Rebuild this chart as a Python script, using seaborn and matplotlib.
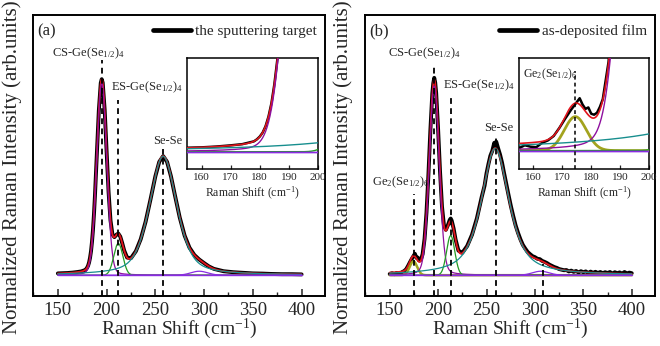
import numpy as np
import matplotlib
matplotlib.use("Agg")
import matplotlib.pyplot as plt
import matplotlib.transforms as mtransforms
from matplotlib.ticker import MultipleLocator
import seaborn as sns

sns.set_style("ticks")
plt.rcParams['font.family'] = ['Liberation Serif', 'DejaVu Serif']
plt.rcParams['mathtext.fontset'] = 'custom'
plt.rcParams['mathtext.rm'] = 'Liberation Serif'
plt.rcParams['mathtext.it'] = 'Liberation Serif:italic'

# ---------------- data: panel (a) measured spectrum ----------------
a_shift = [150, 155, 160, 165, 170, 174, 178, 179, 180, 181, 182, 183, 184, 185, 186, 187, 188,
           190, 192, 194, 195, 196, 198, 200, 202, 204, 206, 208, 210, 212, 214, 216, 218,
           221, 225, 230, 235, 240, 245, 250, 254, 258, 262, 266, 270, 275, 280, 285, 290,
           295, 300, 305, 310, 320, 330, 340, 350, 360, 370, 380, 390, 400]
a_int = [0.009, 0.010, 0.011, 0.013, 0.016, 0.019, 0.026, 0.031, 0.038, 0.048, 0.064, 0.088, 0.121,
         0.168, 0.228, 0.305, 0.397, 0.613, 0.829, 0.970, 0.989, 0.971, 0.835, 0.625, 0.421,
         0.276, 0.205, 0.192, 0.204, 0.210, 0.195, 0.162, 0.125, 0.089, 0.086, 0.121, 0.182,
         0.270, 0.382, 0.499, 0.572, 0.601, 0.572, 0.499, 0.405, 0.291, 0.200, 0.139, 0.102,
         0.079, 0.061, 0.044, 0.032, 0.020, 0.015, 0.012, 0.009, 0.008, 0.006, 0.005, 0.005, 0.004]

# fitted peaks of panel (a): CS, ES, Se-Se, extra
a_centers = [195, 212, 258, 295]
a_heights = [0.97, 0.16, 0.60, 0.02]
a_hwhm = [6.0, 5.5, 16.5, 10.0]
a_eta = [0.1, 0.0, 0.5, 0.0]

# ---------------- data: panel (b) measured spectrum ----------------
b_shift = [150, 152.5, 155, 157, 159, 161, 163, 165, 167, 169, 171, 173, 175, 176, 177, 178, 179,
           180, 181, 182, 183, 184, 186, 188, 190, 192, 194, 195, 196, 197, 198, 200, 202, 204,
           206, 208, 210, 212, 213, 214, 216, 218, 221, 225, 230, 235, 240, 245, 248, 250, 252,
           254, 256, 258, 259, 260, 262, 264, 266, 268, 270, 272.5, 275, 277.5, 280, 282.5,
           285, 287.5, 290, 292.5, 295, 297.5, 300, 302.5, 305, 307.5, 310, 312.5, 315, 317.5,
           320, 322.5, 325, 327.5, 330, 332.5, 335, 337.5, 340, 342.5, 345, 347.5, 350, 352.5,
           355, 357.5, 360, 362.5, 365, 367.5, 370, 372.5, 375, 377.5, 380, 382.5, 385, 387.5,
           390, 392.5, 395, 397.5, 400]
b_int = [0.006, 0.010, 0.005, 0.011, 0.008, 0.007, 0.016, 0.021, 0.030, 0.047, 0.066, 0.084, 0.100,
         0.108, 0.095, 0.086, 0.089, 0.076, 0.074, 0.078, 0.090, 0.106, 0.183, 0.316, 0.508,
         0.730, 0.916, 0.968, 0.996, 0.972, 0.920, 0.736, 0.522, 0.347, 0.252, 0.229, 0.251,
         0.279, 0.286, 0.276, 0.236, 0.181, 0.124, 0.113, 0.147, 0.204, 0.286, 0.394, 0.452,
         0.514, 0.561, 0.603, 0.628, 0.668, 0.652, 0.674, 0.640, 0.608, 0.568, 0.518, 0.470,
         0.410, 0.352, 0.300, 0.252, 0.214, 0.181, 0.153, 0.134, 0.117, 0.106, 0.096, 0.091,
         0.083, 0.081, 0.072, 0.067, 0.061, 0.053, 0.047, 0.041, 0.037, 0.031, 0.028, 0.025,
         0.026, 0.019, 0.023, 0.017, 0.021, 0.014, 0.020, 0.015, 0.019, 0.011, 0.018, 0.012,
         0.017, 0.011, 0.016, 0.010, 0.015, 0.011, 0.016, 0.008, 0.015, 0.010, 0.014, 0.008,
         0.016, 0.009, 0.013, 0.010]

# fitted peaks of panel (b): Ge2, CS, ES, Se-Se, extra
b_centers = [174.5, 196, 213, 259, 306]
b_heights = [0.07, 0.955, 0.20, 0.64, 0.02]
b_hwhm = [4.5, 6.0, 5.0, 17.0, 10.0]
b_eta = [0.0, 0.15, 0.0, 0.7, 0.0]

# annotations
a_labels = ["CS-Ge(Se$_{\\mathrm{1/2}}$)$_{\\mathrm{4}}$", "ES-Ge(Se$_{\\mathrm{1/2}}$)$_{\\mathrm{4}}$", "Se-Se"]
a_label_x = [181, 241, 263]
a_label_y = [1.12, 0.95, 0.675]
a_dash_x = [195, 212, 258]
a_dash_top = [1.085, 0.885, 0.635]

b_labels = ["Ge$_{\\mathrm{2}}$(Se$_{\\mathrm{1/2}}$)$_{\\mathrm{6}}$", "CS-Ge(Se$_{\\mathrm{1/2}}$)$_{\\mathrm{4}}$",
            "ES-Ge(Se$_{\\mathrm{1/2}}$)$_{\\mathrm{4}}$", "Se-Se"]
b_label_x = [161.5, 186, 242.5, 263]
b_label_y = [0.47, 1.12, 0.96, 0.745]
b_dash_x = [175.5, 196, 213, 260, 308]
b_dash_top = [0.41, 1.06, 0.90, 0.70, 0.055]

baseline_x = [150, 400]
baseline_y = [0.0, 0.0]

BLACK = "#000000"
RED = "#e0141c"
CS_C = "#8e0f9e"
ES_C = "#239b23"
SE_C = "#178e8e"
BASE_C = "#8a2be2"
GE_C = "#a3a31e"


def pv(x, c, h, w, eta):
    u = ((x - c) / w) ** 2
    return h * (eta / (1 + u) + (1 - eta) * np.exp(-np.log(2) * u))


grid = np.arange(150, 400.01, 0.25)

W, H = 660, 346
fig = plt.figure(figsize=(6.6, 3.46), dpi=100)


def fr(l, t, r, b):
    return [l / W, 1 - b / H, (r - l) / W, (b - t) / H]


def draw_curves(ax, shift, inten, centers, heights, hwhm, eta, colors, widths, main):
    comps = [pv(grid, c, h, w, e) for c, h, w, e in zip(centers, heights, hwhm, eta)]
    total = np.sum(comps, axis=0)
    sns.lineplot(x=shift, y=inten, ax=ax, color=BLACK, lw=2.8 if main else 1.8,
                 estimator=None, label=None, zorder=2)
    sns.lineplot(x=grid, y=total, ax=ax, color=RED, lw=1.3 if main else 1.2,
                 estimator=None, zorder=3)
    for comp, col, lw in zip(comps, colors, widths):
        sns.lineplot(x=grid, y=comp, ax=ax, color=col, lw=lw if main else lw * 1.1,
                     estimator=None, zorder=4)
    sns.lineplot(x=baseline_x, y=baseline_y, ax=ax, color=BASE_C, lw=1.0, estimator=None, zorder=4)


def style_main(ax):
    ax.set_xlim(124.5, 424)
    ax.set_ylim(-0.105, 1.313)
    ax.xaxis.set_major_locator(MultipleLocator(50))
    ax.xaxis.set_minor_locator(MultipleLocator(25))
    ax.set_yticks([])
    ax.tick_params(axis='x', which='major', direction='in', length=5, width=1.1,
                   labelsize=13.5, pad=4, top=False)
    ax.tick_params(axis='x', which='minor', direction='in', length=3, width=1.0, top=False)
    for s in ax.spines.values():
        s.set_visible(True)
        s.set_linewidth(1.4)
        s.set_color('black')
    ax.set_xlabel("Raman Shift (cm$^{\\mathrm{-1}}$)", fontsize=14)
    ax.set_ylabel("Normalized Raman Intensity (arb.units)", fontsize=15)


def style_inset(ax, ylo, yhi):
    ax.set_xlim(155, 200)
    ax.set_ylim(ylo, yhi)
    ax.xaxis.set_major_locator(MultipleLocator(10))
    ax.set_yticks([])
    ax.tick_params(axis='x', direction='in', length=3, width=0.9, labelsize=8, pad=3)
    for s in ax.spines.values():
        s.set_visible(True)
        s.set_linewidth(1.1)
        s.set_color('black')
    ax.set_xlabel("Raman Shift (cm$^{\\mathrm{-1}}$)", fontsize=8.5, labelpad=2)
    ax.set_ylabel("")


# ---------------- panel (a) ----------------
axa = fig.add_axes(fr(33, 15, 325, 296))
a_colors = [CS_C, ES_C, SE_C, BASE_C]
a_widths = [0.9, 0.9, 0.9, 0.9]
draw_curves(axa, a_shift, a_int, a_centers, a_heights, a_hwhm, a_eta, a_colors, a_widths, True)
style_main(axa)
ylo = axa.get_ylim()[0]
axa.vlines(a_dash_x, ylo, a_dash_top, colors='black', linestyles=(0, (3.2, 2.4)), lw=1.3, zorder=6)
for t, x, y in zip(a_labels, a_label_x, a_label_y):
    axa.text(x, y, t, ha='center', va='center', fontsize=9)
axa.text(0.045, 0.94, "(a)", transform=axa.transAxes, ha='center', va='center', fontsize=12)
axa.plot([], [], color=BLACK, lw=3.4, label="the sputtering target")
axa.legend(loc='upper right', bbox_to_anchor=(1.01, 1.005), frameon=False, fontsize=11,
           handlelength=2.5, handletextpad=0.3, borderaxespad=0.3)
axa.xaxis.set_label_coords(0.5, -0.075)
axa.yaxis.set_label_coords(-0.036, 0.46)

insa = fig.add_axes(fr(187, 58, 318, 169))
draw_curves(insa, a_shift, a_int, a_centers, a_heights, a_hwhm, a_eta, a_colors, a_widths, False)
style_inset(insa, -0.043, 0.234)
if insa.get_legend():
    insa.get_legend().remove()

# ---------------- panel (b) ----------------
axb = fig.add_axes(fr(365, 15, 655, 296))
b_colors = [GE_C, CS_C, ES_C, SE_C, BASE_C]
b_widths = [1.8, 0.9, 0.9, 0.9, 0.9]
draw_curves(axb, b_shift, b_int, b_centers, b_heights, b_hwhm, b_eta, b_colors, b_widths, True)
style_main(axb)
ylo = axb.get_ylim()[0]
axb.vlines(b_dash_x, ylo, b_dash_top, colors='black', linestyles=(0, (3.2, 2.4)), lw=1.3, zorder=6)
for t, x, y in zip(b_labels, b_label_x, b_label_y):
    axb.text(x, y, t, ha='center', va='center', fontsize=9)
axb.text(0.048, 0.94, "(b)", transform=axb.transAxes, ha='center', va='center', fontsize=12)
axb.plot([], [], color=BLACK, lw=3.4, label="as-deposited film")
axb.legend(loc='upper right', bbox_to_anchor=(1.01, 1.005), frameon=False, fontsize=11,
           handlelength=2.5, handletextpad=0.3, borderaxespad=0.3)
axb.xaxis.set_label_coords(0.5, -0.075)
axb.yaxis.set_label_coords(-0.043, 0.46)

insb = fig.add_axes(fr(519, 58, 649, 169))
draw_curves(insb, b_shift, b_int, b_centers, b_heights, b_hwhm, b_eta, b_colors, b_widths, False)
style_inset(insb, -0.038, 0.191)
insb.vlines([b_centers[0]], insb.get_ylim()[0], 0.165, colors='black',
            linestyles=(0, (2.5, 2)), lw=1.1, zorder=6)
insb.text(166, 0.85, b_labels[0], transform=mtransforms.blended_transform_factory(insb.transData, insb.transAxes),
          ha='center', va='center', fontsize=8.5)
if insb.get_legend():
    insb.get_legend().remove()

fig.savefig("out.png", dpi=100)
